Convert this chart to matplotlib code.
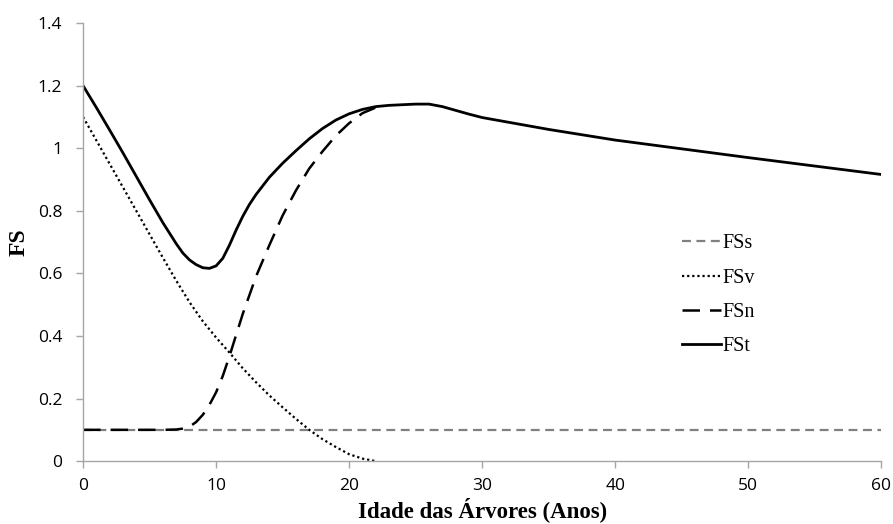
import matplotlib
matplotlib.use("Agg")
import matplotlib.pyplot as plt
from matplotlib.ticker import FuncFormatter

# Data
fst_x = [0, 1, 2, 3, 4, 5, 6, 7, 7.5, 8, 8.5, 9, 9.5, 10, 10.5, 11, 11.5, 12, 12.5, 13,
         14, 15, 16, 17, 18, 19, 20, 21, 22, 23, 24, 25, 26, 27, 28, 29, 30,
         35, 40, 45, 50, 55, 60]
fst_y = [1.20, 1.13, 1.058, 0.985, 0.91, 0.835, 0.762, 0.695, 0.665, 0.643, 0.628, 0.618,
         0.616, 0.624, 0.648, 0.69, 0.738, 0.782, 0.82, 0.852,
         0.907, 0.952, 0.992, 1.03, 1.063, 1.09, 1.11, 1.124, 1.133, 1.137,
         1.139, 1.141, 1.141, 1.133, 1.121, 1.109, 1.098,
         1.06, 1.026, 0.998, 0.970, 0.943, 0.916]

fsv_x = [0, 1, 2, 3, 4, 5, 6, 7, 8, 9, 10, 11, 12, 13, 14, 15, 16, 17, 18, 19, 20, 21, 22]
fsv_y = [1.10, 1.025, 0.95, 0.875, 0.80, 0.725, 0.65, 0.577, 0.508, 0.447, 0.395, 0.347,
         0.297, 0.252, 0.21, 0.172, 0.135, 0.10, 0.07, 0.045, 0.022, 0.008, 0.0]

fsn_x = [0, 2, 4, 6, 7, 7.5, 8, 8.5, 9, 9.5, 10, 10.5, 11, 12, 13, 14, 15, 16, 17, 18,
         19, 20, 21, 22]
fsn_y = [0.1, 0.1, 0.1, 0.1, 0.101, 0.104, 0.11, 0.125, 0.148, 0.18, 0.22, 0.272, 0.335,
         0.47, 0.59, 0.69, 0.785, 0.865, 0.935, 0.99, 1.04, 1.08, 1.112, 1.13]

fss_x = [0, 60]
fss_y = [0.1, 0.1]

x_ticks = [0, 10, 20, 30, 40, 50, 60]
y_ticks = [0, 0.2, 0.4, 0.6, 0.8, 1.0, 1.2, 1.4]

fig = plt.figure(figsize=(8.93, 5.24), dpi=100)
ax = fig.add_axes([0.093, 0.12, 0.894, 0.836])

ax.plot(fss_x, fss_y, color="#808080", lw=1.6, linestyle=(0, (4, 2.5)), label="FSs")
ax.plot(fsv_x, fsv_y, color="black", lw=1.6, linestyle=(0, (1, 1.3)), label="FSv")
ax.plot(fsn_x, fsn_y, color="black", lw=1.8, linestyle=(0, (7, 4)), label="FSn")
ax.plot(fst_x, fst_y, color="black", lw=2.0, linestyle="-", label="FSt",
        solid_joinstyle="round")

ax.set_xlim(0, 60)
ax.set_ylim(0, 1.4)
ax.set_xticks(x_ticks)
ax.set_yticks(y_ticks)
ax.yaxis.set_major_formatter(FuncFormatter(lambda v, p: f"{v:g}"))

for s in ["top", "right"]:
    ax.spines[s].set_visible(False)
for s in ["left", "bottom"]:
    ax.spines[s].set_color("#a6a6a6")
    ax.spines[s].set_linewidth(1.0)
ax.tick_params(axis="both", direction="out", color="#a6a6a6", length=5, width=1.0,
               labelsize=12.5)
ax.tick_params(axis="y", pad=10)
ax.tick_params(axis="x", pad=7)
for lab in ax.get_xticklabels() + ax.get_yticklabels():
    lab.set_fontfamily("Open Sans")

ax.set_xlabel("Idade das Árvores (Anos)", family="Liberation Serif", fontweight="bold",
              fontsize=16.5, labelpad=2)
ax.set_ylabel("FS", family="Liberation Serif", fontweight="bold", fontsize=17, labelpad=6)

leg = ax.legend(loc="upper left", bbox_to_anchor=(0.733, 0.55), frameon=False,
                prop={"family": "Liberation Serif", "size": 14.5},
                handlelength=1.9, handletextpad=0.1, labelspacing=0.75,
                borderpad=0.2)

fig.savefig("out.png", dpi=100)
